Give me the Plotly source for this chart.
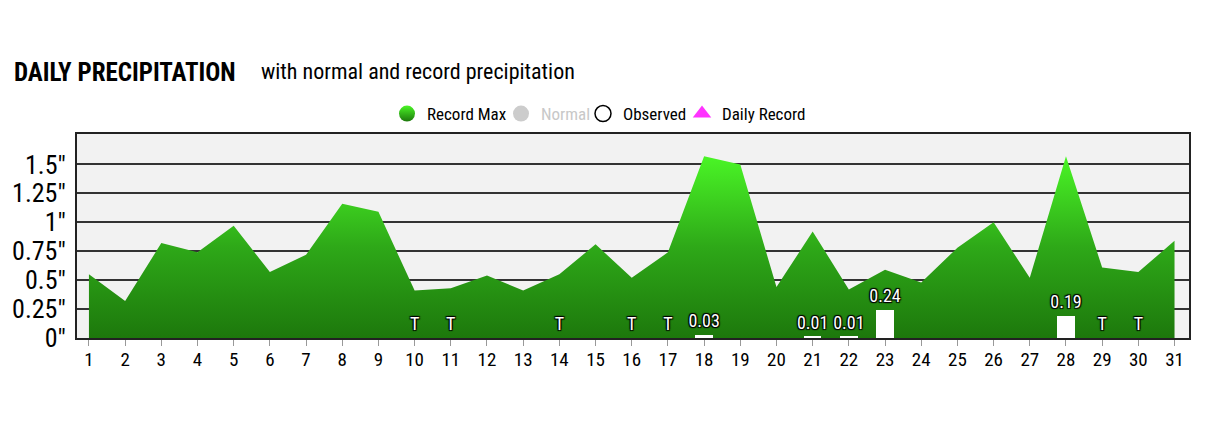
import plotly.graph_objects as go

title = 'DAILY PRECIPITATION'
subtitle = 'with normal and record precipitation'

days = list(range(1, 32))
record_max = [0.55, 0.32, 0.82, 0.74, 0.97, 0.57, 0.72, 1.16, 1.09, 0.41,
              0.43, 0.54, 0.41, 0.55, 0.81, 0.52, 0.74, 1.57, 1.50, 0.44,
              0.92, 0.42, 0.59, 0.48, 0.78, 1.00, 0.52, 1.57, 0.61, 0.57, 0.84]

# observed precip, None = nothing, 0 = trace
observed = [None, None, None, None, None, None, None, None, None, 0,
            0, None, None, 0, None, 0, 0, 0.03, None, None,
            0.01, 0.01, 0.24, None, None, None, None, 0.19, 0, 0, None]
obs_labels = ['T' if v == 0 else ('' if v is None else f'{v:.2f}') for v in observed]

ytick_vals = [0, 0.25, 0.5, 0.75, 1, 1.25, 1.5]
ytick_text = ['0"', '0.25"', '0.5"', '0.75"', '1"', '1.25"', '1.5"']

font_fam = 'Roboto Condensed, Liberation Sans Narrow, Roboto, sans-serif'
outline = '1px 1px 1px #000, -1px -1px 1px #000, 1px -1px 1px #000, -1px 1px 1px #000'

# page has an 8px body margin, so figure is a bit smaller
W, H = 1206, 413
pl, pt, pw, ph = 69, 126, 1112, 204
ymax = 1.763
lift = 0.03  # labels sit a few px higher than plotly's top-center offset

fig = go.Figure()

# record max area
fig.add_trace(go.Scatter(
    x=days, y=record_max, mode='lines', fill='tozeroy',
    line=dict(width=0, color='#2a9a14'),
    fillgradient=dict(type='vertical', start=0, stop=max(record_max),
                      colorscale=[[0, '#1d780c'], [0.5, '#2ea818'], [1, '#4af526']]),
    showlegend=False, hoverinfo='x+y'))

# observed bars (overlay axes so they sit on top of the area)
bar_vals = [v if v else None for v in observed]
fig.add_trace(go.Bar(
    x=days, y=bar_vals, width=0.48, marker=dict(color='white', line=dict(width=0)),
    xaxis='x2', yaxis='y2', showlegend=False))

# labels
fig.add_trace(go.Scatter(
    x=days, y=[0 if v is None else v for v in observed], mode='text',
    text=obs_labels, textposition='top center',
    textfont=dict(family=font_fam, size=18, color='white', shadow=outline),
    xaxis='x2', yaxis='y3', showlegend=False, hoverinfo='skip'))

# legend entries, one small legend each so the spacing stays tight
fig.add_trace(go.Scatter(
    x=[None], y=[None], mode='markers', name='Record Max', legend='legend',
    marker=dict(symbol='circle', size=16, color='#4af526',
                gradient=dict(type='vertical', color='#1d780c'), line=dict(width=0))))
fig.add_trace(go.Scatter(
    x=[None], y=[None], mode='markers', name='Normal', legend='legend2',
    marker=dict(symbol='circle', size=16, color='#cccccc', line=dict(width=0))))
fig.add_trace(go.Scatter(
    x=[None], y=[None], mode='markers', name='Observed', legend='legend3',
    marker=dict(symbol='circle', size=16, color='white', line=dict(width=1.5, color='black'))))
fig.add_trace(go.Scatter(
    x=[None], y=[None], mode='markers', name='Daily Record', legend='legend4',
    marker=dict(symbol='triangle-up', size=16, color='#ff33ff', line=dict(width=0))))


def leg(sym_x, color='black'):
    return dict(orientation='h', x=(sym_x - 20 - 77) / pw, xanchor='left',
                y=(pt + ph - 106) / ph, yanchor='middle', itemwidth=30,
                font=dict(size=17, color=color), bgcolor='rgba(0,0,0,0)')


fig.update_layout(
    width=W, height=H,
    margin=dict(l=pl, r=W - pl - pw, t=pt, b=H - pt - ph),
    paper_bgcolor='white', plot_bgcolor='#f2f2f2',
    font=dict(family=font_fam, color='black', size=17),
    title=dict(text=f'<b>{title}</b>', x=6 / W, xanchor='left', xref='container',
               y=1 - 64 / H, yanchor='middle', yref='container',
               font=dict(size=25, family=font_fam, color='black')),
    annotations=[dict(text=subtitle, xref='paper', yref='paper',
                      x=(251 - pl) / pw, y=(pt + ph - 64) / ph,
                      xanchor='left', yanchor='middle', showarrow=False,
                      font=dict(size=22, family=font_fam, color='black'))],
    legend=leg(407),
    legend2=leg(521, '#c8c8c8'),
    legend3=leg(603),
    legend4=leg(702),
    bargap=0,
    xaxis=dict(range=[0.67, 31.4], tickvals=days, ticks='outside', ticklen=6,
               tickcolor='#999', showgrid=False, zeroline=False,
               showline=True, linecolor='#222', linewidth=2, mirror=True,
               automargin=False, ticklabelstandoff=-3, tickfont=dict(size=19)),
    yaxis=dict(range=[0, ymax], tickvals=ytick_vals, ticktext=ytick_text,
               showgrid=True, gridcolor='#333', gridwidth=1.5, zeroline=False,
               showline=True, linecolor='#222', linewidth=2, mirror=True,
               automargin=False, ticks='', ticklabelstandoff=4, tickfont=dict(size=26)),
    xaxis2=dict(overlaying='x', matches='x', visible=False),
    yaxis2=dict(overlaying='y', matches='y', visible=False),
    yaxis3=dict(overlaying='y', range=[-lift, ymax - lift], visible=False),
)

fig.write_html('out.html')
